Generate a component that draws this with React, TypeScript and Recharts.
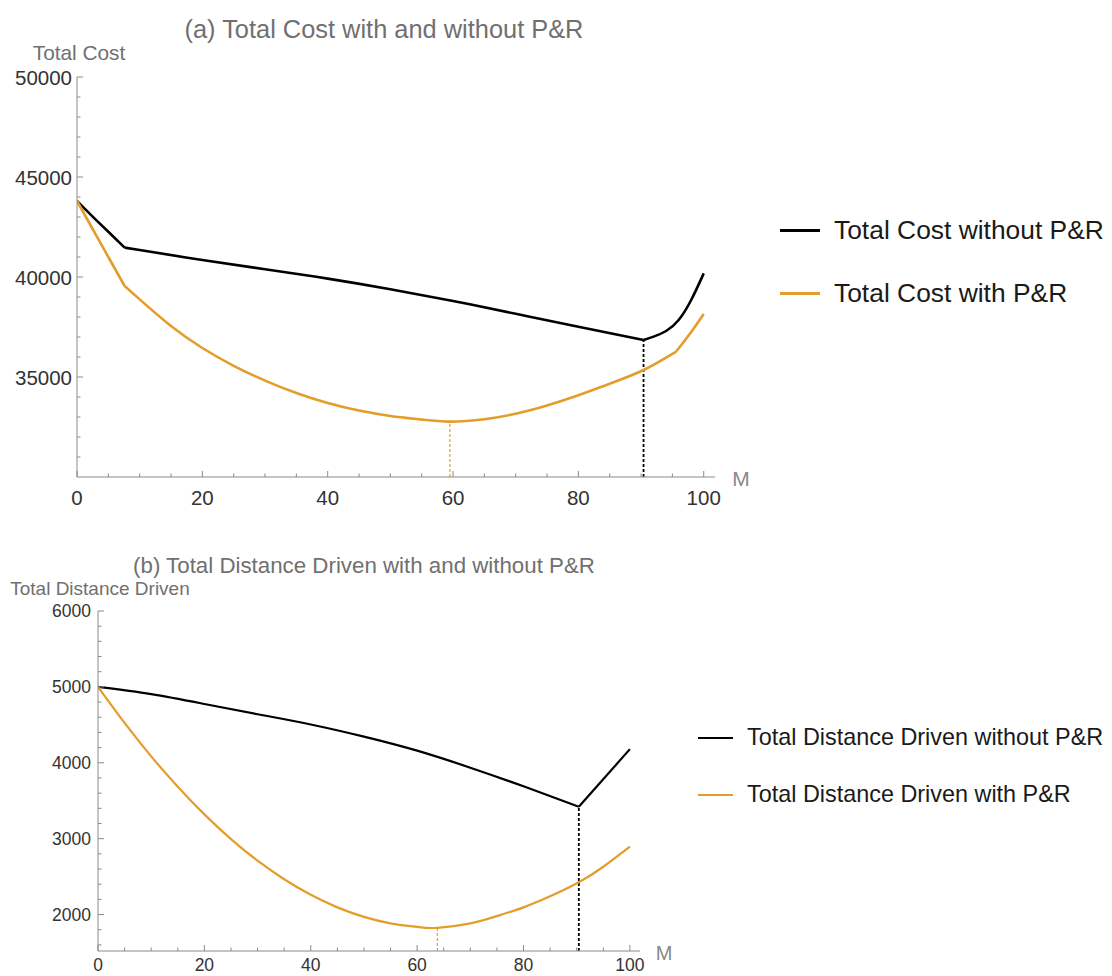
import React from 'react';
import { LineChart, Line, XAxis, YAxis, ReferenceLine } from 'recharts';

// (a) total cost
const costMWithout = [0, 2.5, 5, 7.6, 10, 20, 30, 40, 50, 60, 70, 80, 90.4, 92, 94, 96, 98, 100];
const costWithout = [43800, 43020, 42260, 41470, 41350, 40850, 40390, 39920, 39390, 38800, 38160, 37510, 36850, 37020, 37300, 37850, 38850, 40180];
const costWithoutKinks = [7.6, 90.4];

const costMWith = [0, 2.5, 5, 7.6, 10, 15, 20, 25, 30, 35, 40, 45, 50, 55, 59.5, 65, 70, 75, 80, 85, 90.4, 95.6, 98, 100];
const costWith = [43800, 42400, 41000, 39550, 38880, 37550, 36450, 35560, 34820, 34200, 33700, 33320, 33050, 32870, 32770, 32890, 33160, 33575, 34085, 34665, 35350, 36270, 37250, 38150];
const costWithKinks = [7.6, 95.6];

// (b) total distance driven
const distMWithout = [0, 10, 20, 30, 40, 50, 60, 70, 80, 90.4, 100];
const distWithout = [5000, 4905, 4775, 4640, 4505, 4345, 4160, 3935, 3690, 3420, 4180];
const distWithoutKinks = [90.4];

const distMWith = [0, 5, 10, 15, 20, 25, 30, 35, 40, 45, 50, 55, 60, 63.8, 70, 75, 80, 85, 90.4, 95, 100];
const distWith = [5000, 4525, 4085, 3685, 3320, 2995, 2710, 2465, 2260, 2095, 1970, 1885, 1838, 1825, 1885, 1980, 2095, 2240, 2425, 2630, 2895];
const distWithKinks: number[] = [];

const mTicks = [0, 5, 10, 15, 20, 25, 30, 35, 40, 45, 50, 55, 60, 65, 70, 75, 80, 85, 90, 95, 100];
const costTicks = [31000, 32000, 33000, 34000, 35000, 36000, 37000, 38000, 39000, 40000, 41000, 42000, 43000, 44000, 45000, 46000, 47000, 48000, 49000, 50000];
const distTicks = [1600, 1800, 2000, 2200, 2400, 2600, 2800, 3000, 3200, 3400, 3600, 3800, 4000, 4200, 4400, 4600, 4800, 5000, 5200, 5400, 5600, 5800, 6000];

const ORANGE = '#e39d2a';
const AXIS = '#8a8a8a';
const FONT = '"Liberation Sans", Arial, sans-serif';

type Pt = { m: number; v: number };

const toPoints = (ms: number[], vs: number[]): Pt[] => ms.map((m, i) => ({ m, v: vs[i] }));

// break a series at its corners so each piece stays smooth but the corner stays sharp
function splitAt(pts: Pt[], kinks: number[]): Pt[][] {
  const out: Pt[][] = [];
  let cur: Pt[] = [];
  pts.forEach(p => {
    cur.push(p);
    if (kinks.includes(p.m)) {
      out.push(cur);
      cur = [p];
    }
  });
  if (cur.length > 1) out.push(cur);
  return out;
}

const lowest = (pts: Pt[]) => pts.reduce((a, b) => (b.v < a.v ? b : a));

function makeXTick(fontSize: number, gap: number) {
  return (props: any) => {
    const { x, y, payload } = props;
    const major = payload.value % 20 === 0;
    return <g>
        <line x1={x} y1={y} x2={x} y2={y - (major ? 6 : 3.5)} stroke={AXIS} strokeWidth={1} />
        {major && <text x={x} y={y + gap} textAnchor="middle" dominantBaseline="central" fontSize={fontSize} fill="#333" fontFamily={FONT}>{payload.value}</text>}
      </g>;
  };
}

function makeYTick(fontSize: number, gap: number, step: number) {
  return (props: any) => {
    const { x, y, payload } = props;
    const major = payload.value % step === 0;
    return <g>
        <line x1={x} y1={y} x2={x + (major ? 6 : 3.5)} y2={y} stroke={AXIS} strokeWidth={1} />
        {major && <text x={x - gap} y={y} textAnchor="end" dominantBaseline="central" fontSize={fontSize} fill="#333" fontFamily={FONT}>{payload.value}</text>}
      </g>;
  };
}

interface PanelProps {
  top: number;
  width: number;
  height: number;
  margin: { top: number; right: number; bottom: number; left: number };
  yWidth: number;
  xHeight: number;
  xMax: number;
  yDomain: [number, number];
  yTicks: number[];
  yStep: number;
  xFont: number;
  yFont: number;
  xGap: number;
  yGap: number;
  black: Pt[];
  blackKinks: number[];
  orange: Pt[];
  orangeKinks: number[];
  blackWidth: number;
  orangeWidth: number;
}

function Panel(p: PanelProps) {
  const bMin = lowest(p.black);
  const oMin = lowest(p.orange);
  const y0 = p.yDomain[0];
  return <div style={{ position: 'absolute', left: 0, top: p.top }}>
      <LineChart width={p.width} height={p.height} margin={p.margin}>
        <XAxis type="number" dataKey="m" domain={[0, p.xMax]} ticks={mTicks} interval={0} allowDataOverflow
          height={p.xHeight} stroke={AXIS} tickSize={0} tickMargin={0} tickLine={false}
          tick={makeXTick(p.xFont, p.xGap)} />
        <YAxis type="number" dataKey="v" domain={p.yDomain} ticks={p.yTicks} interval={0} allowDataOverflow
          width={p.yWidth} stroke={AXIS} tickSize={0} tickMargin={0} tickLine={false}
          tick={makeYTick(p.yFont, p.yGap, p.yStep)} />
        <ReferenceLine segment={[{ x: oMin.m, y: y0 }, { x: oMin.m, y: oMin.v }]} stroke={ORANGE} strokeWidth={1.2} strokeDasharray="3 2" />
        <ReferenceLine segment={[{ x: bMin.m, y: y0 }, { x: bMin.m, y: bMin.v }]} stroke="#000" strokeWidth={1.8} strokeDasharray="3 2" />
        {splitAt(p.black, p.blackKinks).map((seg, i) => <Line key={'b' + i} data={seg} dataKey="v" type="natural" stroke="#000"
            strokeWidth={p.blackWidth} dot={false} activeDot={false} isAnimationActive={false} />)}
        {splitAt(p.orange, p.orangeKinks).map((seg, i) => <Line key={'o' + i} data={seg} dataKey="v" type="natural" stroke={ORANGE}
            strokeWidth={p.orangeWidth} dot={false} activeDot={false} isAnimationActive={false} />)}
      </LineChart>
    </div>;
}

const txt = (left: number, top: number, size: number, color: string, s: string, center = true) =>
  <div style={{
    position: 'absolute', left, top, fontSize: size, color, whiteSpace: 'nowrap', lineHeight: 1,
    transform: center ? 'translate(-50%, -50%)' : 'translate(0, -50%)'
  }}>{s}</div>;

function LegendRow({ x, y, len, color, width, size, label }: { x: number; y: number; len: number; color: string; width: number; size: number; label: string }) {
  return <>
      <div style={{ position: 'absolute', left: x, top: y - width / 2, width: len, height: width, background: color }} />
      {txt(x + len + 14, y, size, '#1a1a1a', label, false)}
    </>;
}

export default function App() {
  // fixed so nothing spills into page scroll (no scrollbars eating the edges)
  return <div style={{ position: 'fixed', left: 0, top: 0, width: 1112, height: 976, background: '#fff', fontFamily: FONT, overflow: 'hidden' }}>
      <Panel top={0} width={760} height={507} margin={{ top: 77, right: 45, bottom: 0, left: 0 }} yWidth={77} xHeight={30}
        xMax={101.8} yDomain={[30000, 50000]} yTicks={costTicks} yStep={5000} xFont={20.5} yFont={20.5} xGap={20} yGap={5}
        black={toPoints(costMWithout, costWithout)} blackKinks={costWithoutKinks}
        orange={toPoints(costMWith, costWith)} orangeKinks={costWithKinks} blackWidth={2.6} orangeWidth={2.6} />
      {txt(384, 30, 25.4, '#707070', '(a) Total Cost with and without P&R')}
      {txt(79, 53, 20.8, '#707070', 'Total Cost')}
      {txt(741, 478, 21, '#8a8a8a', 'M')}
      <LegendRow x={780} y={230} len={40} color="#000" width={3} size={26.4} label="Total Cost without P&R" />
      <LegendRow x={780} y={293} len={40} color={ORANGE} width={3} size={26.4} label="Total Cost with P&R" />

      <Panel top={560} width={690} height={416} margin={{ top: 51, right: 50, bottom: 0, left: 0 }} yWidth={98} xHeight={25}
        xMax={101.9} yDomain={[1520, 6000]} yTicks={distTicks} yStep={1000} xFont={17.5} yFont={17.5} xGap={14} yGap={7}
        black={toPoints(distMWithout, distWithout)} blackKinks={distWithoutKinks}
        orange={toPoints(distMWith, distWith)} orangeKinks={distWithKinks} blackWidth={2.2} orangeWidth={2.2} />
      {txt(364, 566, 22.3, '#707070', '(b) Total Distance Driven with and without P&R')}
      {txt(100, 588, 19, '#707070', 'Total Distance Driven')}
      {txt(664, 953, 20, '#8a8a8a', 'M')}
      <LegendRow x={698} y={738} len={35} color="#000" width={2.5} size={23.4} label="Total Distance Driven without P&R" />
      <LegendRow x={698} y={795} len={35} color={ORANGE} width={2.5} size={23.4} label="Total Distance Driven with P&R" />
    </div>;
}
